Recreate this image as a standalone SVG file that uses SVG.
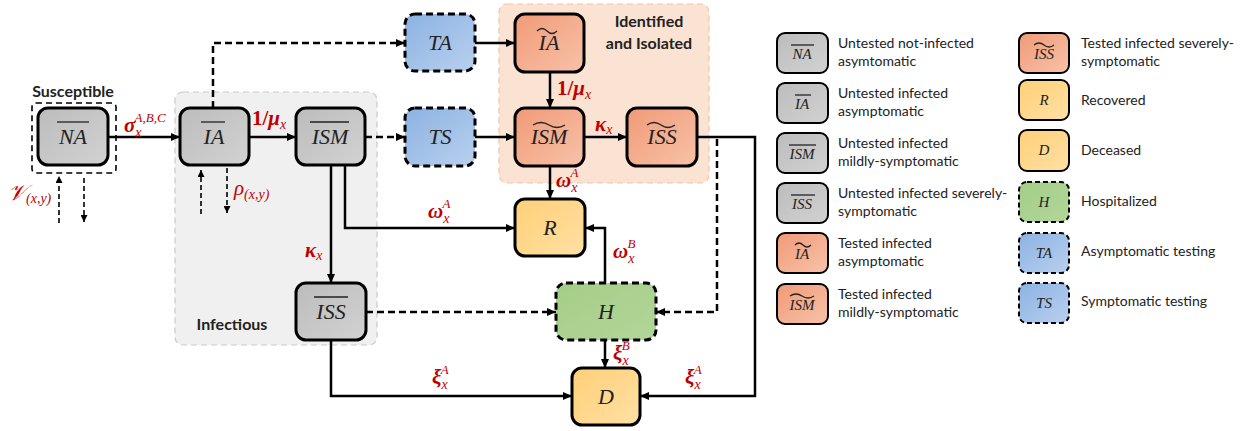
<svg xmlns="http://www.w3.org/2000/svg" width="1240" height="431" viewBox="0 0 1240 431">
<style>
.node{stroke:#000;stroke-width:3}
.dnode{stroke:#000;stroke-width:3;stroke-dasharray:7 4}
.lg{stroke:#000;stroke-width:2}
.dlg{stroke:#000;stroke-width:2;stroke-dasharray:5 3}
.nt{font-family:"Liberation Serif",serif;font-style:italic;font-size:22px;fill:#222;text-anchor:middle}
.lt{font-family:"Liberation Serif",serif;font-style:italic;font-size:15px;fill:#222;text-anchor:middle}
.deco{stroke:#222;stroke-width:1.3;fill:none}
.c{fill:none;stroke:#000;stroke-width:2.5}
.cd{fill:none;stroke:#000;stroke-width:2.5;stroke-dasharray:7 4}
.ct{fill:none;stroke:#000;stroke-width:1.6;stroke-dasharray:5 3}
.red{font-family:"Liberation Serif",serif;fill:#c00000}
.g{font-family:"Liberation Serif",serif;font-weight:bold;font-style:italic;font-size:21px}
.up{font-style:normal}
.sub{font-style:italic;font-weight:normal;font-size:14px}
.sup{font-style:italic;font-weight:normal;font-size:13px}
.lab{font-family:Lato,"Liberation Sans",sans-serif;font-size:14px;fill:#222}
.hd{font-family:Lato,"Liberation Sans",sans-serif;font-weight:bold;font-size:16px;fill:#222;text-anchor:middle}
</style>
<defs>
<linearGradient id="gGray" x1="0" y1="0" x2="1" y2="1"><stop offset="0" stop-color="#bcbcbc"/><stop offset="1" stop-color="#d2d2d2"/></linearGradient>
<linearGradient id="gSal" x1="0" y1="0" x2="1" y2="1"><stop offset="0" stop-color="#f09a77"/><stop offset="1" stop-color="#f8c2a9"/></linearGradient>
<linearGradient id="gYel" x1="0" y1="0" x2="1" y2="1"><stop offset="0" stop-color="#ffd078"/><stop offset="1" stop-color="#ffe0a4"/></linearGradient>
<linearGradient id="gGrn" x1="0" y1="0" x2="1" y2="1"><stop offset="0" stop-color="#a4ce87"/><stop offset="1" stop-color="#b2d69a"/></linearGradient>
<linearGradient id="gBlu" x1="0" y1="0" x2="1" y2="1"><stop offset="0" stop-color="#8cb2e2"/><stop offset="1" stop-color="#b9d0ee"/></linearGradient>
<marker id="ah" markerUnits="userSpaceOnUse" markerWidth="9" markerHeight="8" refX="9" refY="4" orient="auto"><path d="M0,0 L9,4 L0,8 z" fill="#000"/></marker>
<marker id="as" markerUnits="userSpaceOnUse" markerWidth="7" markerHeight="7" refX="7" refY="3.5" orient="auto"><path d="M0,0 L7,3.5 L0,7 z" fill="#000"/></marker>
</defs>
<rect width="1240" height="431" fill="#fff"/>

<!-- regions -->
<g id="region-infectious">
<rect x="175" y="92" width="202" height="253" rx="8" fill="#f0f0f0" stroke="#c9c9c9" stroke-width="1.2" stroke-dasharray="6 4"/>
<text class="hd" x="232" y="330">Infectious</text>
</g>
<g id="region-identified">
<rect x="499" y="4" width="210" height="179" rx="8" fill="#fbe3d3" stroke="#f6c3a6" stroke-width="1.2" stroke-dasharray="6 4"/>
<text class="hd" x="649" y="27">Identified</text>
<text class="hd" x="649" y="49">and Isolated</text>
</g>
<g id="region-susceptible">
<rect x="32" y="103" width="84" height="70" rx="4" fill="none" stroke="#000" stroke-width="1.6" stroke-dasharray="6 4"/>
<text class="hd" x="73" y="97">Susceptible</text>
</g>

<!-- connectors -->
<g id="connectors">
<path class="c" d="M108,137 H180" marker-end="url(#ah)"/>
<path class="c" d="M249,137 H296" marker-end="url(#ah)"/>
<path class="cd" d="M213,108 V43 H405" marker-end="url(#ah)"/>
<path class="cd" d="M365,137 H405" marker-end="url(#ah)"/>
<path class="c" d="M475,43 H515" marker-end="url(#ah)"/>
<path class="c" d="M475,137 H515" marker-end="url(#ah)"/>
<path class="c" d="M550,72 V108" marker-end="url(#ah)"/>
<path class="c" d="M584,137 H627" marker-end="url(#ah)"/>
<path class="c" d="M550,166 V199" marker-end="url(#ah)"/>
<path class="c" d="M331,165 V283" marker-end="url(#ah)"/>
<path class="c" d="M345,165 V228 H515" marker-end="url(#ah)"/>
<path class="c" d="M605,283 V228 H585" marker-end="url(#ah)"/>
<path class="cd" d="M366,312 H556" marker-end="url(#ah)"/>
<path class="cd" d="M717,139 V312 H656" marker-end="url(#ah)"/>
<path class="c" d="M697,137 H755 V396 H640" marker-end="url(#ah)"/>
<path class="c" d="M605,340 V368" marker-end="url(#ah)"/>
<path class="c" d="M331,341 V396 H572" marker-end="url(#ah)"/>
<path class="ct" d="M59,223 V176" marker-end="url(#as)"/>
<path class="ct" d="M84,178 V222" marker-end="url(#as)"/>
<path class="ct" d="M201,214 V170" marker-end="url(#as)"/>
<path class="ct" d="M227,168 V213" marker-end="url(#as)"/>
</g>

<!-- connector labels -->
<g id="labels" class="red">
<text class="g" x="124" y="132">σ<tspan class="sub" dy="5">x</tspan><tspan class="sup" dx="-7" dy="-15">A,B,C</tspan></text>
<text class="g" x="252" y="125"><tspan class="up">1/</tspan>μ<tspan class="sub" dy="4">x</tspan></text>
<text class="g" x="557" y="95"><tspan class="up">1/</tspan>μ<tspan class="sub" dy="4">x</tspan></text>
<text class="g" x="595" y="131">κ<tspan class="sub" dy="3">x</tspan></text>
<text class="g" x="556" y="187">ω<tspan class="sub" dy="5">x</tspan><tspan class="sup" dx="-7" dy="-15">A</tspan></text>
<text class="g" x="428" y="218">ω<tspan class="sub" dy="5">x</tspan><tspan class="sup" dx="-7" dy="-15">A</tspan></text>
<text class="g" x="613" y="258">ω<tspan class="sub" dy="5">x</tspan><tspan class="sup" dx="-7" dy="-15">B</tspan></text>
<text class="g" x="305" y="257">κ<tspan class="sub" dy="3">x</tspan></text>
<text class="g" x="613" y="360">ξ<tspan class="sub" dy="5">x</tspan><tspan class="sup" dx="-7" dy="-15">B</tspan></text>
<text class="g" x="432" y="384">ξ<tspan class="sub" dy="5">x</tspan><tspan class="sup" dx="-7" dy="-15">A</tspan></text>
<text class="g" x="685" y="384">ξ<tspan class="sub" dy="5">x</tspan><tspan class="sup" dx="-7" dy="-15">A</tspan></text>
<text x="8" y="200" font-size="22" font-style="italic">𝒱<tspan font-size="14" dy="3">(x,y)</tspan></text>
<text x="234" y="195" font-size="21" font-style="italic">ρ<tspan font-size="14" dy="4">(x,y)</tspan></text>
</g>

<!-- nodes -->
<g id="node-NA"><rect class="node" x="38" y="108" width="70" height="57" rx="10" fill="url(#gGray)"/><text class="nt" x="73" y="144">NA</text><line class="deco" x1="57" y1="122" x2="89" y2="122"/></g>
<g id="node-IA"><rect class="node" x="180" y="108" width="69" height="57" rx="10" fill="url(#gGray)"/><text class="nt" x="214" y="144">IA</text><line class="deco" x1="201" y1="122" x2="225" y2="122"/></g>
<g id="node-ISM"><rect class="node" x="296" y="108" width="69" height="57" rx="10" fill="url(#gGray)"/><text class="nt" x="330" y="144">ISM</text><line class="deco" x1="310" y1="122" x2="349" y2="122"/></g>
<g id="node-ISS"><rect class="node" x="296" y="283" width="70" height="57" rx="10" fill="url(#gGray)"/><text class="nt" x="331" y="319">ISS</text><line class="deco" x1="314" y1="297" x2="348" y2="297"/></g>
<g id="node-TA"><rect class="dnode" x="405" y="14" width="70" height="57" rx="10" fill="url(#gBlu)"/><text class="nt" x="440" y="50">TA</text></g>
<g id="node-TS"><rect class="dnode" x="405" y="108" width="70" height="58" rx="10" fill="url(#gBlu)"/><text class="nt" x="440" y="144">TS</text></g>
<g id="node-IAt"><rect class="node" x="515" y="14" width="69" height="58" rx="10" fill="url(#gSal)"/><text class="nt" x="549" y="50">IA</text><path class="deco" d="M537,31 q5,-5 10,0 t10,0"/></g>
<g id="node-ISMt"><rect class="node" x="515" y="108" width="69" height="58" rx="10" fill="url(#gSal)"/><text class="nt" x="549" y="144">ISM</text><path class="deco" d="M533,125 q8,-5 16,0 t16,0"/></g>
<g id="node-ISSt"><rect class="node" x="627" y="108" width="70" height="58" rx="10" fill="url(#gSal)"/><text class="nt" x="662" y="144">ISS</text><path class="deco" d="M647,125 q7,-5 14,0 t14,0"/></g>
<g id="node-R"><rect class="node" x="515" y="199" width="70" height="57" rx="10" fill="url(#gYel)"/><text class="nt" x="550" y="235">R</text></g>
<g id="node-H"><rect class="dnode" x="556" y="283" width="100" height="57" rx="10" fill="url(#gGrn)"/><text class="nt" x="606" y="319">H</text></g>
<g id="node-D"><rect class="node" x="572" y="368" width="68" height="57" rx="10" fill="url(#gYel)"/><text class="nt" x="606" y="404">D</text></g>

<!-- legend -->
<g id="legend-NA"><rect class="lg" x="777" y="33" width="51" height="40" rx="8" fill="url(#gGray)"/><text class="lt" x="802" y="59">NA</text><line class="deco" x1="791" y1="45" x2="814" y2="45" stroke-width="1"/><text class="lab" x="838" y="48">Untested not-infected</text><text class="lab" x="838" y="66">asymtomatic</text></g>
<g id="legend-IA"><rect class="lg" x="777" y="83" width="51" height="40" rx="8" fill="url(#gGray)"/><text class="lt" x="802" y="109">IA</text><line class="deco" x1="795" y1="95" x2="811" y2="95" stroke-width="1"/><text class="lab" x="838" y="98">Untested infected</text><text class="lab" x="838" y="116">asymptomatic</text></g>
<g id="legend-ISM"><rect class="lg" x="777" y="133" width="51" height="40" rx="8" fill="url(#gGray)"/><text class="lt" x="802" y="159">ISM</text><line class="deco" x1="789" y1="145" x2="816" y2="145" stroke-width="1"/><text class="lab" x="838" y="148">Untested infected</text><text class="lab" x="838" y="166">mildly-symptomatic</text></g>
<g id="legend-ISS"><rect class="lg" x="777" y="183" width="51" height="40" rx="8" fill="url(#gGray)"/><text class="lt" x="802" y="209">ISS</text><line class="deco" x1="791" y1="195" x2="815" y2="195" stroke-width="1"/><text class="lab" x="838" y="198">Untested infected severely-</text><text class="lab" x="838" y="216">symptomatic</text></g>
<g id="legend-IAt"><rect class="lg" x="777" y="233" width="51" height="40" rx="8" fill="url(#gSal)"/><text class="lt" x="802" y="259">IA</text><path class="deco" stroke-width="1" d="M795,245 q4,-4 8,0 t8,0"/><text class="lab" x="838" y="248">Tested infected</text><text class="lab" x="838" y="266">asymptomatic</text></g>
<g id="legend-ISMt"><rect class="lg" x="777" y="284" width="51" height="40" rx="8" fill="url(#gSal)"/><text class="lt" x="802" y="310">ISM</text><path class="deco" stroke-width="1" d="M790,296 q6,-4 12,0 t12,0"/><text class="lab" x="838" y="299">Tested infected</text><text class="lab" x="838" y="317">mildly-symptomatic</text></g>
<g id="legend-ISSt"><rect class="lg" x="1019" y="33" width="50" height="40" rx="8" fill="url(#gSal)"/><text class="lt" x="1044" y="59">ISS</text><path class="deco" stroke-width="1" d="M1034,45 q5,-4 10,0 t10,0"/><text class="lab" x="1081" y="48">Tested infected severely-</text><text class="lab" x="1081" y="66">symptomatic</text></g>
<g id="legend-R"><rect class="lg" x="1019" y="80" width="50" height="40" rx="8" fill="url(#gYel)"/><text class="lt" x="1044" y="105">R</text><text class="lab" x="1081" y="105">Recovered</text></g>
<g id="legend-D"><rect class="lg" x="1019" y="130" width="50" height="41" rx="8" fill="url(#gYel)"/><text class="lt" x="1044" y="155">D</text><text class="lab" x="1081" y="155">Deceased</text></g>
<g id="legend-H"><rect class="dlg" x="1019" y="182" width="50" height="40" rx="8" fill="url(#gGrn)"/><text class="lt" x="1044" y="207">H</text><text class="lab" x="1081" y="206">Hospitalized</text></g>
<g id="legend-TA"><rect class="dlg" x="1019" y="233" width="50" height="40" rx="8" fill="url(#gBlu)"/><text class="lt" x="1044" y="258">TA</text><text class="lab" x="1081" y="256">Asymptomatic testing</text></g>
<g id="legend-TS"><rect class="dlg" x="1019" y="283" width="50" height="40" rx="8" fill="url(#gBlu)"/><text class="lt" x="1044" y="308">TS</text><text class="lab" x="1081" y="306">Symptomatic testing</text></g>
</svg>
